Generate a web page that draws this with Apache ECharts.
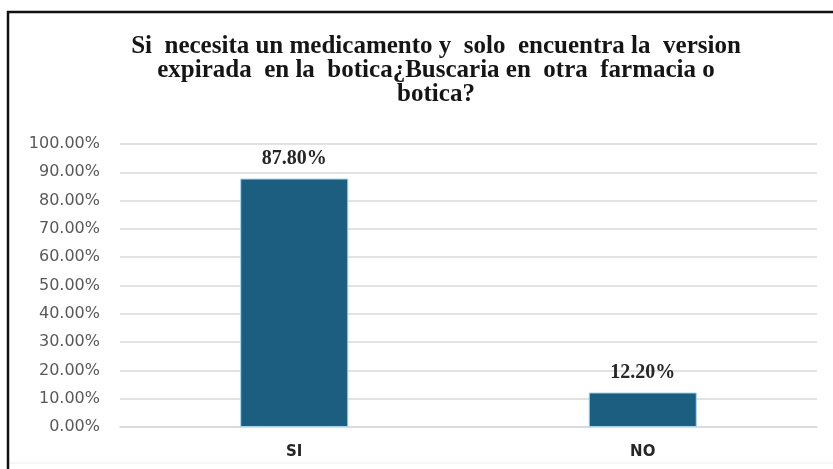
<!doctype html>
<html>
<head>
    <meta charset="utf-8">
    <title>botica</title>
    <style>
    html, body { margin: 0; padding: 0; background: #fff; }
    #main { width: 833px; height: 469px; }
    </style>
</head>
<body>
    <div id="main"></div>
    <script src="https://cdn.jsdelivr.net/npm/echarts@6/dist/echarts.min.js"></script>
    <script>
    var categories = ['SI', 'NO'];
    var values = [87.8, 12.2];
    var titleLines = [
        'Si  necesita un medicamento y  solo  encuentra la  version',
        'expirada  en la  botica¿Buscaria en  otra  farmacia o',
        'botica?'
    ];

    var chart = echarts.init(document.getElementById('main'));
    chart.setOption({
        animation: false,
        backgroundColor: '#fff',
        title: {
            text: titleLines.join('\n'),
            left: 431,
            textAlign: 'center',
            top: 30,
            textStyle: {
                fontFamily: 'Liberation Serif',
                fontWeight: 'bold',
                fontSize: 25,
                lineHeight: 24,
                color: '#151515'
            }
        },
        graphic: [{
            type: 'rect',
            shape: { x: 8, y: 12, width: 900, height: 520 },
            style: { fill: 'none', stroke: '#111', lineWidth: 2.5 },
            z: 100
        }, {
            type: 'line',
            shape: { x1: 10, y1: 463, x2: 833, y2: 463 },
            style: { stroke: '#eee', lineWidth: 1 }
        }],
        grid: { left: 120, right: 16, top: 144, bottom: 42 },
        xAxis: {
            type: 'category',
            data: categories,
            axisLine: { lineStyle: { color: '#d9d9d9', width: 1.5 } },
            axisTick: { show: false },
            axisLabel: {
                margin: 18,
                color: '#262626',
                fontWeight: 'bold',
                fontSize: 15,
                fontFamily: 'DejaVu Sans'
            }
        },
        yAxis: {
            type: 'value',
            min: 0,
            max: 100,
            interval: 10,
            axisLine: { show: false },
            axisTick: { show: false },
            splitLine: { lineStyle: { color: '#d9d9d9', width: 1.5 } },
            axisLabel: {
                margin: 20,
                color: '#595959',
                fontSize: 16,
                fontFamily: 'DejaVu Sans',
                formatter: function (v) { return v.toFixed(2) + '%'; }
            }
        },
        series: [{
            type: 'bar',
            data: values,
            barWidth: '31%',
            itemStyle: { color: '#1b5e80', borderColor: '#a8d4ec', borderWidth: 1 },
            label: {
                show: true,
                position: 'top',
                distance: 10,
                fontFamily: 'Liberation Serif',
                fontWeight: 'bold',
                fontSize: 20,
                color: '#262626',
                formatter: function (p) { return p.value.toFixed(2) + '%'; }
            }
        }]
    });
    </script>
</body>
</html>
